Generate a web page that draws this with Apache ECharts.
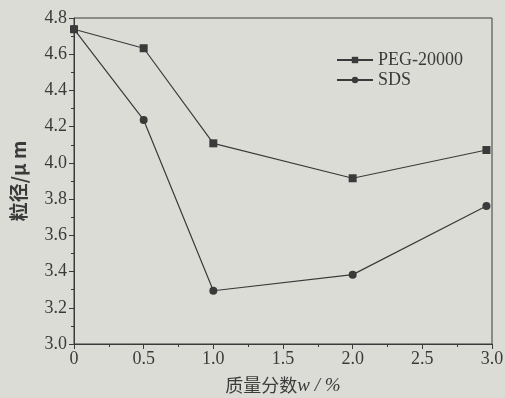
<!DOCTYPE html>
<html>
<head>
<meta charset="utf-8">
<script src="https://cdn.jsdelivr.net/npm/echarts@6/dist/echarts.min.js"></script>
<style>
  html, body { margin: 0; padding: 0; background: #dcdcd7; }
  #chart { width: 505px; height: 398px; }
</style>
</head>
<body>
<div id="chart"></div>
<script>
// 质量分数 (%) 与 粒径 (μm)
const massFraction = [0, 0.5, 1.0, 2.0, 2.96];
const pegSize = [4.738, 4.633, 4.108, 3.915, 4.071];
const sdsSize = [4.738, 4.237, 3.294, 3.383, 3.762];
const seriesNames = ['PEG-20000', 'SDS'];

const ink = '#3a3a3a';
const serif = '"Liberation Serif", "DejaVu Serif", serif';
const cjk = '"Noto Sans CJK SC", sans-serif';

const chart = echarts.init(document.getElementById('chart'));

function pairs(xs, ys) {
  return xs.map((x, i) => [x, ys[i]]);
}

const option = {
  backgroundColor: 'transparent',
  animation: false,
  grid: {
    left: 74,
    top: 18,
    right: 13,
    bottom: 54,
    outerBoundsMode: 'none',
    show: true,
    borderColor: ink,
    borderWidth: 1
  },
  legend: {
    left: 331,
    top: 46,
    orient: 'vertical',
    itemGap: 2,
    itemWidth: 36,
    itemHeight: 8,
    textStyle: { fontFamily: serif, fontSize: 18, color: ink },
    data: seriesNames
  },
  xAxis: {
    type: 'value',
    min: 0,
    max: 3,
    interval: 0.5,
    name: '{zh|质量分数}{it|w}{n| / %}',
    nameLocation: 'middle',
    nameGap: 32,
    nameTextStyle: {
      rich: {
        zh: { fontFamily: cjk, fontSize: 18, color: ink },
        it: { fontFamily: serif, fontSize: 19, fontStyle: 'italic', color: ink },
        n: { fontFamily: serif, fontSize: 19, fontStyle: 'italic', color: ink }
      }
    },
    axisLine: { lineStyle: { color: ink, width: 1 } },
    axisTick: { inside: false, length: 5, lineStyle: { color: ink } },
    minorTick: { show: true, splitNumber: 2, length: 3, lineStyle: { color: ink } },
    splitLine: { show: false },
    axisLabel: {
      fontFamily: serif,
      fontSize: 18,
      color: ink,
      margin: 6,
      formatter: v => (v === 0 ? '0' : v.toFixed(1))
    }
  },
  yAxis: {
    type: 'value',
    min: 3.0,
    max: 4.8,
    interval: 0.2,
    name: '粒径/μ m',
    nameLocation: 'middle',
    nameRotate: 90,
    nameGap: 46,
    nameTextStyle: {
      fontFamily: cjk,
      fontSize: 19,
      fontWeight: 'bold',
      color: ink
    },
    axisLine: { lineStyle: { color: ink, width: 1 } },
    axisTick: { inside: false, length: 5, lineStyle: { color: ink } },
    minorTick: { show: true, splitNumber: 2, length: 3, lineStyle: { color: ink } },
    splitLine: { show: false },
    axisLabel: {
      fontFamily: serif,
      fontSize: 18,
      color: ink,
      margin: 7,
      formatter: v => v.toFixed(1)
    }
  },
  series: [
    {
      name: seriesNames[0],
      type: 'line',
      data: pairs(massFraction, pegSize),
      symbol: 'rect',
      symbolSize: 8,
      itemStyle: { color: ink },
      lineStyle: { color: ink, width: 1.2 }
    },
    {
      name: seriesNames[1],
      type: 'line',
      data: pairs(massFraction, sdsSize),
      symbol: 'circle',
      symbolSize: 8,
      itemStyle: { color: ink },
      lineStyle: { color: ink, width: 1.2 }
    }
  ]
};

chart.setOption(option);
</script>
</body>
</html>
